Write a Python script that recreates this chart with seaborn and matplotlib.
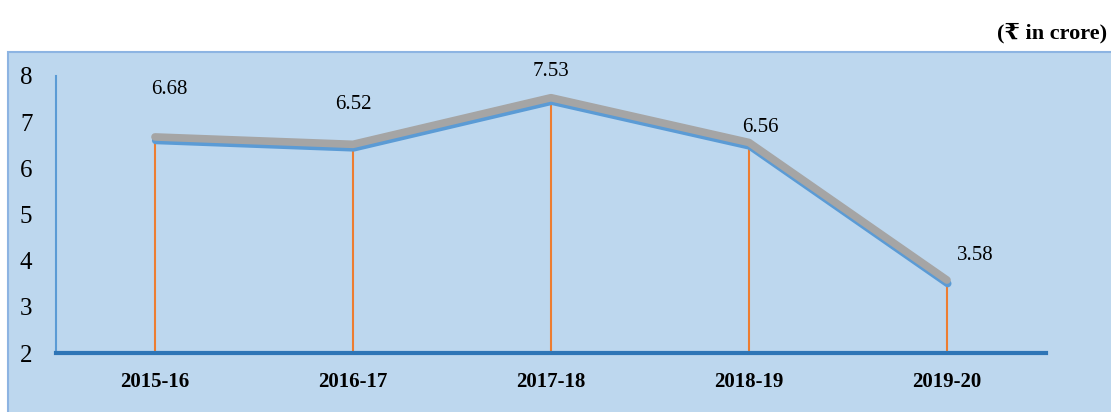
import matplotlib
matplotlib.use("Agg")
import matplotlib.pyplot as plt
import matplotlib.patheffects as pe
from matplotlib.patches import Rectangle
import pandas as pd
import seaborn as sns

# chart data
years = ["2015-16", "2016-17", "2017-18", "2018-19", "2019-20"]
values = [6.68, 6.52, 7.53, 6.56, 3.58]
# label offsets (points) as placed in the original
label_dx = [10, 0, 0, 8, 20]
label_dy = [27, 22, 12, 4, 11]

df = pd.DataFrame({"year": years, "value": values})

sns.set_theme(style="white")
plt.rcParams["font.family"] = ["Liberation Serif", "DejaVu Serif", "DejaVu Sans"]

fig = plt.figure(figsize=(11.11, 4.12), dpi=100)
W, H = 1111, 412

# light blue chart area box
box = Rectangle((8 / W, -0.05), 1.2, (412 - 52) / H + 0.05, transform=fig.transFigure,
                facecolor="#BDD7EE", edgecolor="#8DB4E2", linewidth=1.5, zorder=-5)
fig.patches.append(box)

ax = fig.add_axes([56 / W, (412 - 353) / H, (1046 - 56) / W, (353 - 76) / H])
ax.set_zorder(5)
ax.set_facecolor("none")

x = list(range(len(years)))
df["x"] = x

# orange drop lines
ax.vlines(df["x"], 2, df["value"], color="#ED7D31", linewidth=1.5, zorder=2)

# grey line with blue shadow
sns.lineplot(data=df, x="x", y="value", ax=ax, color="#A5A5A5", linewidth=5.5,
             solid_capstyle="round", zorder=3,
             path_effects=[pe.SimpleLineShadow(offset=(0.5, -2.5), shadow_color="#5B9BD5", alpha=1.0),
                           pe.Normal()])

for xi, v, dx, dy in zip(x, values, label_dx, label_dy):
    ax.annotate(f"{v:.2f}", (xi, v), xytext=(dx, dy), textcoords="offset points",
                ha="center", va="bottom", fontsize=15, color="black")

ax.set_xlim(-0.5, len(years) - 0.5)
ax.set_ylim(2, 8)
ax.set_yticks([2, 3, 4, 5, 6, 7, 8])
ax.set_xticks(x)
ax.set_xticklabels(years, fontweight="bold", fontsize=15)
ax.tick_params(axis="y", labelsize=18, pad=17, length=0, labelcolor="black")
ax.tick_params(axis="x", pad=14, length=0, labelcolor="black")
ax.set_xlabel("")
ax.set_ylabel("")

for s in ["top", "right"]:
    ax.spines[s].set_visible(False)
ax.spines["left"].set_color("#5B9BD5")
ax.spines["left"].set_linewidth(1.5)
ax.spines["bottom"].set_color("#2E75B6")
ax.spines["bottom"].set_linewidth(3)

fig.text(1107 / W, 1 - 33 / H, "(₹ in crore)", ha="right", va="center",
         fontsize=16, fontweight="bold", color="black")

fig.savefig("out.png", dpi=100)
